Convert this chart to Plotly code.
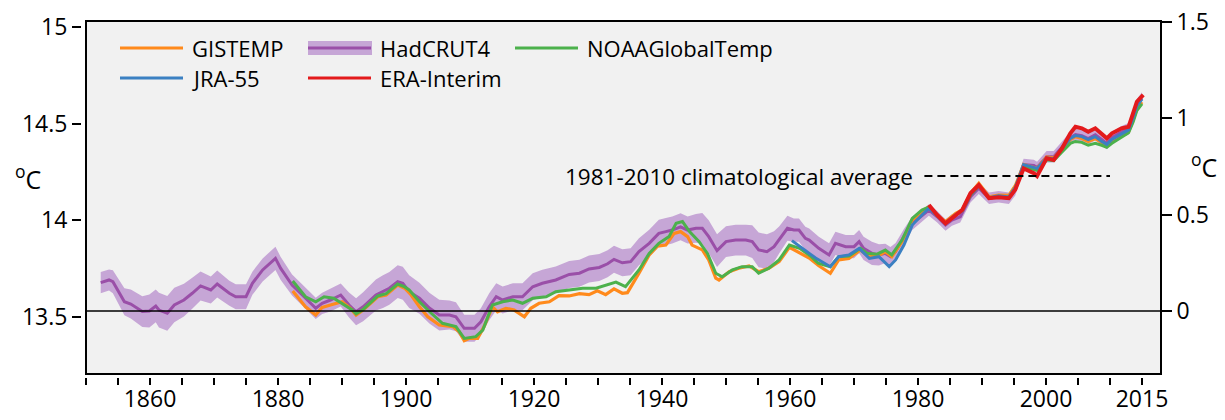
import plotly.graph_objects as go

# ---------------- data (anomaly, degC, right axis) ----------------
had_years = [1852.3, 1853.6, 1854.2, 1856.0, 1857.0, 1858.8, 1859.9, 1860.9, 1861.4, 1862.7,
             1863.8, 1865.3, 1866.6, 1867.9, 1869.5, 1870.5, 1872.4, 1873.4, 1875.0, 1876.0,
             1877.6, 1879.6, 1880.4, 1882.2, 1883.8, 1885.9, 1886.9, 1888.2, 1889.8, 1891.1,
             1892.2, 1893.3, 1895.3, 1896.4, 1897.4, 1898.7, 1899.5, 1900.5, 1902.1, 1903.7,
             1905.2, 1906.8, 1907.8, 1909.1, 1910.7, 1911.7, 1913.0, 1914.1, 1915.1, 1916.7,
             1918.2, 1919.8, 1921.3, 1923.4, 1925.5, 1927.1, 1928.6, 1930.2, 1931.5, 1932.5,
             1933.8, 1935.1, 1936.4, 1938.0, 1939.5, 1940.6, 1941.6, 1942.9, 1944.0, 1945.3,
             1946.3, 1947.3, 1948.6, 1950.0, 1951.5, 1953.1, 1954.1, 1955.1, 1956.4, 1957.5,
             1958.3, 1959.6, 1960.6, 1961.4, 1962.4, 1963.0, 1964.5, 1966.1, 1967.1, 1968.7,
             1970.0, 1970.8, 1971.5, 1972.8, 1973.9, 1974.9, 1975.7, 1976.5, 1977.8, 1979.1,
             1980.4, 1981.7, 1983.0, 1984.3, 1985.3, 1986.6, 1988.2, 1989.5, 1991.1, 1992.6,
             1994.2, 1995.2, 1996.5, 1998.1, 1998.6, 2000.1, 2001.2, 2002.5, 2003.8, 2004.6,
             2005.6, 2006.6, 2007.7, 2008.7, 2009.5, 2010.3, 2011.8, 2012.9, 2013.6, 2014.2,
             2015.0]
had_vals = [0.147, 0.161, 0.152, 0.048, 0.036, -0.003, 0.000, 0.026, 0.005, -0.012,
            0.031, 0.057, 0.092, 0.130, 0.109, 0.140, 0.092, 0.074, 0.074, 0.144,
            0.213, 0.273, 0.222, 0.135, 0.083, 0.014, 0.040, 0.057, 0.083, 0.031,
            -0.004, 0.022, 0.083, 0.100, 0.118, 0.152, 0.144, 0.100, 0.066, 0.014,
            -0.021, -0.021, -0.030, -0.090, -0.090, -0.056, 0.022, 0.074, 0.057, 0.074,
            0.074, 0.126, 0.144, 0.161, 0.190, 0.196, 0.218, 0.226, 0.245, 0.268,
            0.250, 0.256, 0.308, 0.351, 0.403, 0.412, 0.420, 0.437, 0.420, 0.429,
            0.429, 0.386, 0.313, 0.360, 0.368, 0.368, 0.360, 0.317, 0.308, 0.334,
            0.368, 0.429, 0.420, 0.420, 0.377, 0.368, 0.325, 0.291, 0.351, 0.334,
            0.334, 0.360, 0.325, 0.299, 0.291, 0.299, 0.282, 0.308, 0.386, 0.455,
            0.489, 0.524, 0.489, 0.446, 0.472, 0.489, 0.593, 0.637, 0.585, 0.593,
            0.585, 0.630, 0.760, 0.755, 0.745, 0.800, 0.800, 0.850, 0.900, 0.915,
            0.910, 0.895, 0.915, 0.890, 0.870, 0.900, 0.930, 0.945, 1.010, 1.070,
            1.105]
had_unc = [0.055, 0.055, 0.060, 0.070, 0.075, 0.080, 0.085, 0.085, 0.090, 0.090,
           0.090, 0.085, 0.080, 0.075, 0.070, 0.070, 0.065, 0.065, 0.065, 0.060,
           0.060, 0.060, 0.060, 0.055, 0.055, 0.055, 0.055, 0.060, 0.060, 0.065,
           0.070, 0.075, 0.080, 0.085, 0.085, 0.085, 0.085, 0.085, 0.080, 0.080,
           0.080, 0.075, 0.075, 0.070, 0.070, 0.070, 0.070, 0.070, 0.070, 0.070,
           0.070, 0.070, 0.070, 0.070, 0.070, 0.070, 0.070, 0.070, 0.070, 0.070,
           0.070, 0.070, 0.070, 0.070, 0.070, 0.070, 0.070, 0.070, 0.070, 0.075,
           0.080, 0.085, 0.085, 0.080, 0.080, 0.080, 0.085, 0.090, 0.090, 0.080,
           0.070, 0.065, 0.060, 0.060, 0.060, 0.060, 0.060, 0.060, 0.060, 0.060,
           0.060, 0.060, 0.060, 0.060, 0.055, 0.050, 0.050, 0.045, 0.040, 0.035,
           0.030, 0.030, 0.030, 0.030, 0.030, 0.030, 0.030, 0.030, 0.030, 0.030,
           0.030, 0.030, 0.030, 0.030, 0.030, 0.030, 0.030, 0.030, 0.030, 0.030,
           0.030, 0.030, 0.030, 0.030, 0.030, 0.030, 0.030, 0.030, 0.030, 0.030,
           0.030]

gis_years = [1882.3, 1884.3, 1885.9, 1886.9, 1888.2, 1890.0, 1891.3, 1892.2, 1893.3, 1895.6,
             1896.9, 1898.7, 1899.8, 1900.8, 1902.1, 1903.4, 1905.2, 1907.3, 1908.3, 1909.1,
             1909.9, 1911.2, 1912.2, 1913.5, 1914.3, 1915.6, 1916.9, 1918.5, 1919.5, 1920.8,
             1922.4, 1923.9, 1925.5, 1927.1, 1928.6, 1929.9, 1931.2, 1932.5, 1933.8, 1934.6,
             1936.4, 1938.0, 1939.3, 1940.6, 1941.9, 1942.9, 1944.0, 1944.7, 1946.3, 1947.3,
             1948.4, 1948.9, 1950.5, 1952.0, 1953.6, 1955.1, 1956.7, 1958.3, 1959.9, 1961.4,
             1963.0, 1964.5, 1966.3, 1967.6, 1969.2, 1971.0, 1972.0, 1973.6, 1974.9, 1975.9,
             1977.5, 1979.1, 1980.6, 1981.7, 1983.0, 1984.3, 1985.9, 1986.9, 1988.2, 1989.5,
             1991.1, 1992.6, 1994.2, 1995.2, 1996.5, 1998.1, 1998.6, 2000.1, 2001.2, 2002.5,
             2003.8, 2004.6, 2005.6, 2006.6, 2007.7, 2008.7, 2009.5, 2010.3, 2011.8, 2012.9,
             2013.6, 2014.2, 2015.0]
gis_vals = [0.104, 0.022, -0.021, 0.019, 0.031, 0.048, 0.014, -0.021, 0.005, 0.074,
            0.083, 0.135, 0.118, 0.083, 0.022, -0.030, -0.073, -0.081, -0.107, -0.154,
            -0.142, -0.142, -0.081, 0.022, -0.004, 0.014, 0.005, -0.030, 0.014, 0.040,
            0.048, 0.080, 0.078, 0.090, 0.085, 0.105, 0.085, 0.115, 0.092, 0.095,
            0.196, 0.291, 0.337, 0.342, 0.403, 0.412, 0.386, 0.342, 0.317, 0.265,
            0.170, 0.161, 0.204, 0.222, 0.234, 0.204, 0.222, 0.256, 0.330, 0.305,
            0.275, 0.235, 0.196, 0.265, 0.273, 0.317, 0.291, 0.282, 0.308, 0.282,
            0.360, 0.472, 0.515, 0.541, 0.498, 0.463, 0.507, 0.524, 0.611, 0.663,
            0.593, 0.602, 0.600, 0.650, 0.760, 0.745, 0.740, 0.800, 0.795, 0.840,
            0.890, 0.905, 0.895, 0.880, 0.895, 0.875, 0.860, 0.880, 0.910, 0.930,
            0.990, 1.050, 1.085]

noaa_years = [1882.3, 1884.3, 1885.9, 1887.2, 1888.7, 1890.0, 1891.6, 1892.2, 1893.3, 1895.6,
              1896.9, 1898.7, 1899.8, 1900.5, 1902.1, 1903.7, 1905.7, 1907.8, 1909.1, 1910.9,
              1912.0, 1913.5, 1915.1, 1916.7, 1918.2, 1919.8, 1921.9, 1923.4, 1925.5, 1927.6,
              1929.7, 1931.5, 1932.8, 1934.3, 1936.4, 1938.0, 1939.5, 1941.1, 1942.2, 1943.2,
              1944.3, 1945.8, 1947.1, 1948.4, 1949.4, 1951.0, 1952.5, 1954.1, 1955.1, 1956.7,
              1958.3, 1959.9, 1961.5, 1963.1, 1964.4, 1966.3, 1967.6, 1969.2, 1971.0, 1972.0,
              1973.6, 1974.9, 1975.9, 1977.5, 1979.1, 1980.6, 1981.7, 1983.0, 1984.3, 1985.9,
              1986.9, 1988.2, 1989.5, 1991.1, 1992.6, 1994.2, 1995.2, 1996.5, 1998.1, 1998.6,
              2000.1, 2001.2, 2002.5, 2003.8, 2004.6, 2005.6, 2006.6, 2007.7, 2008.7, 2009.5,
              2010.3, 2011.8, 2012.9, 2013.6, 2014.2, 2015.0]
noaa_vals = [0.156, 0.074, 0.048, 0.074, 0.066, 0.040, 0.005, -0.015, 0.008, 0.078,
             0.090, 0.140, 0.125, 0.109, 0.048, -0.004, -0.064, -0.081, -0.142, -0.133,
             -0.099, 0.031, 0.048, 0.057, 0.040, 0.066, 0.074, 0.100, 0.109, 0.118,
             0.118, 0.135, 0.150, 0.126, 0.213, 0.299, 0.351, 0.386, 0.455, 0.464,
             0.412, 0.360, 0.299, 0.196, 0.178, 0.213, 0.230, 0.230, 0.196, 0.222,
             0.265, 0.342, 0.325, 0.288, 0.248, 0.230, 0.282, 0.285, 0.325, 0.300,
             0.295, 0.316, 0.291, 0.368, 0.481, 0.524, 0.540, 0.495, 0.455, 0.500,
             0.520, 0.600, 0.650, 0.585, 0.595, 0.590, 0.640, 0.750, 0.735, 0.730,
             0.785, 0.780, 0.825, 0.870, 0.880, 0.875, 0.860, 0.870, 0.860, 0.850,
             0.870, 0.900, 0.925, 0.980, 1.040, 1.075]

jra_years = [1960.3, 1961.9, 1964.0, 1966.3, 1967.6, 1969.2, 1970.8, 1972.4, 1973.9, 1975.5,
             1976.5, 1977.8, 1979.1, 1980.6, 1981.7, 1983.0, 1984.3, 1985.9, 1986.9, 1988.2,
             1989.5, 1991.1, 1992.6, 1994.2, 1995.2, 1996.5, 1998.1, 1998.6, 2000.1, 2001.2,
             2002.5, 2003.8, 2004.6, 2005.6, 2006.6, 2007.7, 2008.7, 2009.5, 2010.3, 2011.8,
             2012.9, 2013.6, 2014.2, 2015.0]
jra_vals = [0.365, 0.325, 0.275, 0.230, 0.282, 0.291, 0.325, 0.273, 0.282, 0.230,
            0.265, 0.342, 0.446, 0.498, 0.533, 0.495, 0.455, 0.500, 0.520, 0.605,
            0.650, 0.588, 0.598, 0.592, 0.640, 0.760, 0.745, 0.740, 0.795, 0.790,
            0.845, 0.895, 0.910, 0.905, 0.890, 0.905, 0.880, 0.865, 0.890, 0.920,
            0.940, 1.000, 1.065, 1.100]

era_years = [1981.7, 1983.0, 1984.3, 1985.9, 1986.9, 1988.2, 1989.5, 1991.1, 1992.6, 1994.2,
             1995.2, 1996.5, 1998.1, 1998.6, 2000.1, 2001.2, 2002.5, 2003.8, 2004.6, 2005.6,
             2006.6, 2007.7, 2008.7, 2009.5, 2010.3, 2011.8, 2012.9, 2013.6, 2014.2, 2015.2]
era_vals = [0.550, 0.498, 0.455, 0.498, 0.524, 0.611, 0.654, 0.585, 0.590, 0.585,
            0.630, 0.740, 0.715, 0.700, 0.792, 0.784, 0.844, 0.922, 0.956, 0.948,
            0.930, 0.948, 0.922, 0.896, 0.922, 0.948, 0.956, 1.026, 1.086, 1.121]

clim_years = [1981, 2010]
clim_level = 0.70
clim_label = "1981-2010 climatological average"

x_tick_years = list(range(1850, 2016, 5))
x_label_years = [1860, 1880, 1900, 1920, 1940, 1960, 1980, 2000, 2015]
left_ticks = [13.5, 14, 14.5, 15]
left_labels = ["13.5", "14", "14.5", "15"]
right_ticks = [0, 0.5, 1, 1.5]
right_labels = ["0", "0.5", "1", "1.5"]

# ---------------- styling ----------------
FONT = "Open Sans"
C_GIS = "#ff8a1c"
C_HAD = "#9a4fa8"
C_HAD_BAND = "#c6a6d6"
C_NOAA = "#4cb14c"
C_JRA = "#3b80c2"
C_ERA = "#e31a1c"

W, H = 1225, 420
PL, PR, PT, PB = 82, 1161, 21, 377


def px(x):
    return (x - PL) / (PR - PL)


def py(y):
    return (PB - y) / (PB - PT)


fig = go.Figure()

# empty trace so the left (absolute temperature) axis is drawn
fig.add_trace(go.Scatter(x=[None], y=[None], mode="lines", yaxis="y",
                         showlegend=False, hoverinfo="skip"))

upper = [v + u for v, u in zip(had_vals, had_unc)]
lower = [v - u for v, u in zip(had_vals, had_unc)]
fig.add_trace(go.Scatter(x=had_years + had_years[::-1], y=upper + lower[::-1],
                         fill="toself", fillcolor=C_HAD_BAND, line=dict(width=0),
                         mode="lines", yaxis="y2", hoverinfo="skip", showlegend=False))
fig.add_trace(go.Scatter(x=had_years, y=had_vals, mode="lines", name="HadCRUT4",
                         line=dict(color=C_HAD, width=3), yaxis="y2", showlegend=False))
fig.add_trace(go.Scatter(x=gis_years, y=gis_vals, mode="lines", name="GISTEMP",
                         line=dict(color=C_GIS, width=3.2), yaxis="y2", showlegend=False))
fig.add_trace(go.Scatter(x=noaa_years, y=noaa_vals, mode="lines", name="NOAAGlobalTemp",
                         line=dict(color=C_NOAA, width=3), yaxis="y2", showlegend=False))
fig.add_trace(go.Scatter(x=jra_years, y=jra_vals, mode="lines", name="JRA-55",
                         line=dict(color=C_JRA, width=3), yaxis="y2", showlegend=False))
fig.add_trace(go.Scatter(x=era_years, y=era_vals, mode="lines", name="ERA-Interim",
                         line=dict(color=C_ERA, width=4), yaxis="y2", showlegend=False))
fig.add_trace(go.Scatter(x=clim_years, y=[clim_level] * len(clim_years), mode="lines",
                         line=dict(color="black", width=2, dash="8px,5px"),
                         yaxis="y2", showlegend=False, hoverinfo="skip"))

shapes = [
    dict(type="rect", xref="paper", yref="paper", x0=px(86), x1=1, y0=py(374), y1=1,
         fillcolor="#f1f1f1", line=dict(color="black", width=2), layer="below"),
    dict(type="line", xref="paper", yref="y2", x0=px(86), x1=1, y0=0, y1=0,
         line=dict(color="black", width=1.6), layer="above"),
]

# manual legend
legend_items = [
    ("GISTEMP", C_GIS, 120, 48, False),
    ("HadCRUT4", C_HAD, 308, 48, True),
    ("NOAAGlobalTemp", C_NOAA, 515, 48, False),
    ("JRA-55", C_JRA, 120, 78, False),
    ("ERA-Interim", C_ERA, 308, 78, False),
]
annotations = []
for name, col, x0, yy, band in legend_items:
    if band:
        shapes.append(dict(type="line", xref="paper", yref="paper", x0=px(x0), x1=px(x0 + 64),
                           y0=py(yy), y1=py(yy), line=dict(color=C_HAD_BAND, width=14)))
    shapes.append(dict(type="line", xref="paper", yref="paper", x0=px(x0), x1=px(x0 + 63),
                       y0=py(yy), y1=py(yy), line=dict(color=col, width=3)))
    annotations.append(dict(text=name, xref="paper", yref="paper", x=px(x0 + 70), y=py(yy),
                            xanchor="left", yanchor="middle", showarrow=False,
                            font=dict(family=FONT, size=22, color="black")))

annotations.append(dict(text=clim_label, xref="x", yref="y2", x=1979.6, y=clim_level,
                        xanchor="right", yanchor="middle", showarrow=False,
                        font=dict(family=FONT, size=22.5, color="black")))
annotations.append(dict(text="<sup>o</sup>C", xref="paper", yref="paper", x=px(28), y=py(177),
                        xanchor="center", yanchor="middle", showarrow=False,
                        font=dict(family=FONT, size=25, color="black")))
annotations.append(dict(text="<sup>o</sup>C", xref="paper", yref="paper", x=px(1204), y=py(165),
                        xanchor="center", yanchor="middle", showarrow=False,
                        font=dict(family=FONT, size=25, color="black")))

tick_font = dict(family=FONT, size=23, color="black")
fig.update_layout(
    width=W, height=H,
    margin=dict(l=PL, r=W - PR, t=PT, b=H - PB, pad=0, autoexpand=False),
    paper_bgcolor="white", plot_bgcolor="rgba(0,0,0,0)",
    showlegend=False,
    xaxis=dict(range=[1850 - 4 / 6.4, 2015 + 19 / 6.4], tickmode="array",
               tickvals=x_tick_years,
               ticktext=[str(y) if y in x_label_years else "" for y in x_tick_years],
               ticks="outside", ticklen=7, tickwidth=1.5, tickcolor="black",
               ticklabelstandoff=-6,
               showgrid=False, zeroline=False, showline=False, tickfont=tick_font,
               automargin=False),
    yaxis=dict(range=[13.5 - 60 / 193.3, 15 + 6 / 193.3], tickmode="array",
               tickvals=left_ticks, ticktext=left_labels,
               ticks="outside", ticklen=9, tickwidth=1.5, tickcolor="black",
               showgrid=False, zeroline=False, showline=False, tickfont=tick_font,
               automargin=False),
    yaxis2=dict(range=[-66 / 192.7, 290 / 192.7], overlaying="y", side="right",
                tickmode="array", tickvals=right_ticks, ticktext=right_labels,
                ticks="outside", ticklen=10, tickwidth=1.5, tickcolor="black",
                showgrid=False, zeroline=False, showline=False, tickfont=tick_font,
                automargin=False),
    shapes=shapes,
    annotations=annotations,
)

fig.write_html("out.html", config={"displayModeBar": False},
               post_script="document.body.style.margin='0';")
